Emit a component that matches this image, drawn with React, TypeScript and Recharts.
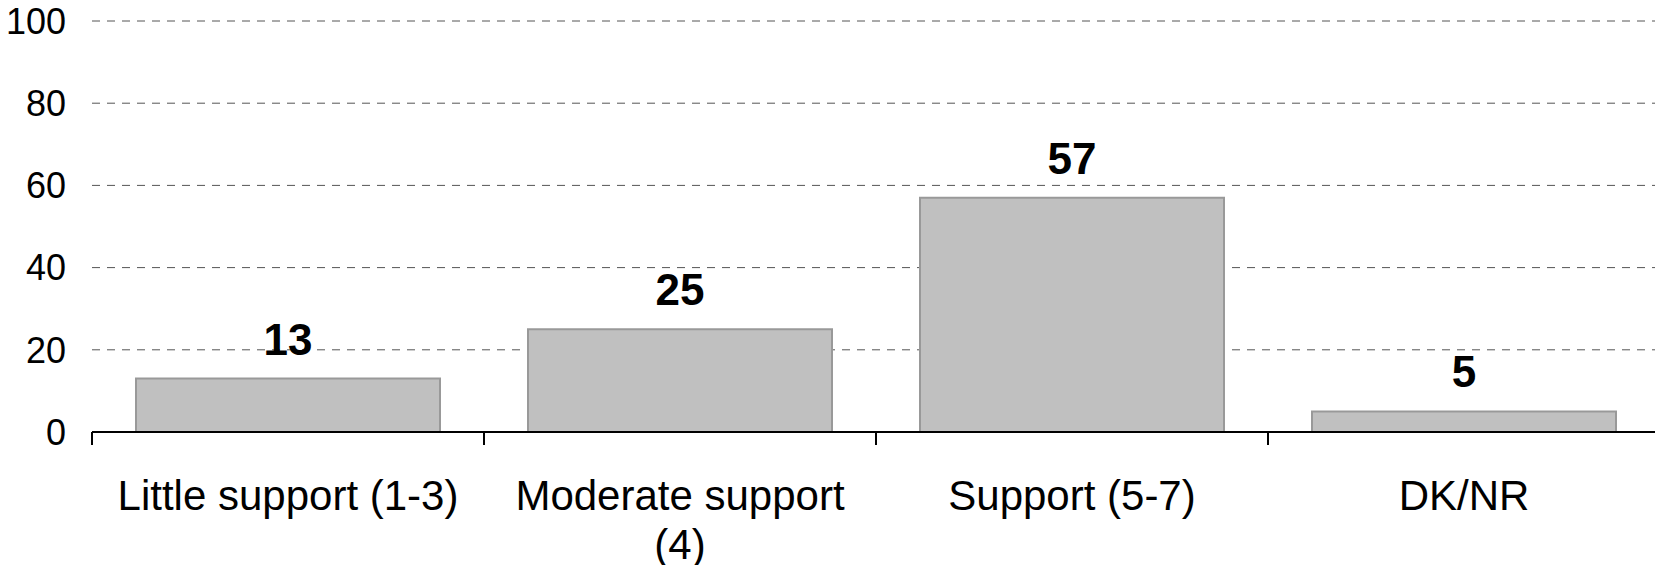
import { BarChart, Bar, XAxis, YAxis, CartesianGrid, LabelList } from 'recharts';

const categories = ['Little support (1-3)', 'Moderate support (4)', 'Support (5-7)', 'DK/NR'];
const values = [13, 25, 57, 5];
const yTicks = [0, 20, 40, 60, 80, 100];
const edgeTicks = [0, 1, 2, 3, 4];

const data = categories.map((name, i) => ({ name, value: values[i] }));

const FONT = '"Liberation Sans", Arial, sans-serif';
const LABEL_SIZE = 42;

// break a label into lines that fit the category width
function wrapLabel(label: string, maxWidth: number): string[] {
  const ctx = document.createElement('canvas').getContext('2d');
  if (!ctx) return [label];
  ctx.font = `${LABEL_SIZE}px ${FONT}`;
  const lines: string[] = [];
  let line = '';
  for (const word of label.split(' ')) {
    const test = line ? `${line} ${word}` : word;
    if (line && ctx.measureText(test).width > maxWidth) {
      lines.push(line);
      line = word;
    } else {
      line = test;
    }
  }
  if (line) lines.push(line);
  return lines;
}

function CategoryTick(props: any) {
  const { x, y, payload } = props;
  const lines = wrapLabel(String(payload.value), 370);
  return (
    <text
      x={x}
      y={y}
      textAnchor="middle"
      fill="#000"
      style={{ fontSize: LABEL_SIZE, fontFamily: FONT }}
    >
      {lines.map((l, i) => (
        <tspan key={i} x={x} dy={i === 0 ? 77 : 49}>
          {l}
        </tspan>
      ))}
    </text>
  );
}

const NoLabel = () => <g />;

export default function App() {
  return (
    <div style={{ margin: -8, width: 1663, height: 573, background: '#fff' }}>
      <BarChart
        width={1663}
        height={573}
        data={data}
        margin={{ top: 21, right: 3, bottom: 0, left: 0 }}
        barCategoryGap={44}
      >
        <CartesianGrid vertical={false} stroke="#555555" strokeDasharray="8 7" />
        {/* numeric axis only used to put tick marks on the category boundaries */}
        <XAxis
          xAxisId="a_edge"
          dataKey="value"
          type="number"
          domain={[0, categories.length]}
          allowDataOverflow
          ticks={edgeTicks}
          interval={0}
          height={1}
          tick={<NoLabel />}
          axisLine={{ stroke: '#000', strokeWidth: 2 }}
          tickLine={{ stroke: '#000', strokeWidth: 2 }}
          tickSize={13}
        />
        <XAxis
          xAxisId="b_cat"
          dataKey="name"
          height={140}
          axisLine={false}
          tickLine={false}
          tickSize={0}
          tickMargin={0}
          interval={0}
          tick={<CategoryTick />}
        />
        <YAxis
          domain={[0, 100]}
          ticks={yTicks}
          width={92}
          axisLine={false}
          tickLine={false}
          tickSize={0}
          tickMargin={26}
          tick={{ fontSize: 36, fontFamily: FONT, fill: '#000' }}
        />
        <Bar
          xAxisId="b_cat"
          dataKey="value"
          fill="#c0c0c0"
          stroke="#999999"
          strokeWidth={2}
          isAnimationActive={false}
        >
          <LabelList
            dataKey="value"
            position="top"
            offset={24}
            style={{ fontSize: 44, fontWeight: 'bold', fontFamily: FONT, fill: '#000' }}
          />
        </Bar>
      </BarChart>
    </div>
  );
}
